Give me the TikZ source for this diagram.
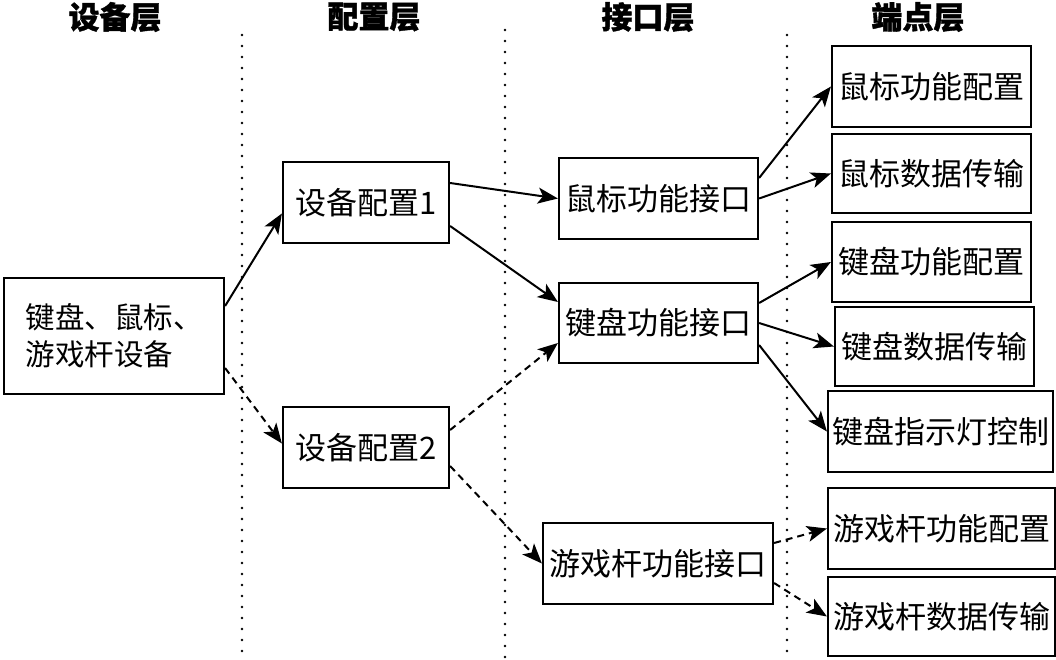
\documentclass[tikz,border=0pt]{standalone}
\usepackage{fontspec}
\setmainfont{Noto Sans CJK SC}
\usetikzlibrary{arrows.meta}
\tikzset{
  box/.style={draw=black, line width=2.2pt, fill=white, inner sep=0pt,
    font=\fontsize{31}{36}\selectfont},
  head/.style={font=\fontsize{31}{36}\selectfont\bfseries\addfontfeature{FakeBold=1.2}},
  link/.style={line width=2pt, -{Stealth[length=20pt,width=16pt,inset=5pt]}},
  dlink/.style={link, dash pattern=on 7pt off 5pt},
  sep/.style={line width=2.6pt, line cap=round, dash pattern=on 0pt off 11pt},
}
\begin{document}
\begin{tikzpicture}[x=1pt, y=-1pt]
\useasboundingbox (0,0) rectangle (1056,660);

% column headings
\node[head] (h1) at (115,17) {设备层};
\node[head] (h2) at (374,17) {配置层};
\node[head] (h3) at (648,17) {接口层};
\node[head] (h4) at (918,17) {端点层};

% dotted column separators
\draw[sep] (242,35) -- (242,660);
\draw[sep] (505,30) -- (505,660);
\draw[sep] (787,35) -- (787,660);

% device
\node[box, minimum width=220pt, minimum height=116pt, align=left,
  font=\fontsize{29.5}{37}\selectfont] (dev) at (114,336)
  {键盘、鼠标、\\游戏杆设备};

% configurations
\node[box, minimum width=166pt, minimum height=81pt] (c1) at (366,202.5) {设备配置1};
\node[box, minimum width=166pt, minimum height=81pt] (c2) at (366,447.5) {设备配置2};

% interfaces
\node[box, minimum width=199pt, minimum height=81pt] (mi) at (658.5,198.5) {鼠标功能接口};
\node[box, minimum width=199pt, minimum height=80pt] (ki) at (658.5,323) {键盘功能接口};
\node[box, minimum width=230pt, minimum height=81pt] (ji) at (658,563.5) {游戏杆功能接口};

% endpoints
\node[box, minimum width=199pt, minimum height=81pt] (e1) at (931.5,86.5) {鼠标功能配置};
\node[box, minimum width=199pt, minimum height=79pt] (e2) at (931.5,173.5) {鼠标数据传输};
\node[box, minimum width=199pt, minimum height=80pt] (e3) at (931.5,262) {键盘功能配置};
\node[box, minimum width=199pt, minimum height=79pt] (e4) at (934.5,346.5) {键盘数据传输};
\node[box, minimum width=225pt, minimum height=81pt] (e5) at (940.5,431.5) {键盘指示灯控制};
\node[box, minimum width=227pt, minimum height=81pt] (e6) at (941.5,528.5) {游戏杆功能配置};
\node[box, minimum width=227pt, minimum height=79pt] (e7) at (941.5,616.5) {游戏杆数据传输};

% device -> configurations
\draw[link]  ([yshift=30pt]dev.east) -- ([yshift=-11pt]c1.west);
\draw[dlink] ([yshift=-32pt]dev.east) -- ([yshift=4pt]c2.west);

% configurations -> interfaces
\draw[link]  ([yshift=19.5pt]c1.east) -- (mi.west);
\draw[link]  ([yshift=-23.5pt]c1.east) -- ([yshift=21pt]ki.west);
\draw[dlink] ([yshift=17.5pt]c2.east) -- ([yshift=-20pt]ki.west);
\draw[dlink] ([yshift=-18.5pt]c2.east) -- (ji.west);

% interfaces -> endpoints
\draw[link]  ([yshift=20.5pt]mi.east) -- (e1.west);
\draw[link]  (mi.east) -- (e2.west);
\draw[link]  ([yshift=20pt]ki.east) -- (e3.west);
\draw[link]  (ki.east) -- (e4.west);
\draw[link]  ([yshift=-22pt]ki.east) -- (e5.west);
\draw[dlink] ([yshift=20.5pt]ji.east) -- (e6.west);
\draw[dlink] ([yshift=-19.5pt]ji.east) -- (e7.west);
\end{tikzpicture}
\end{document}
